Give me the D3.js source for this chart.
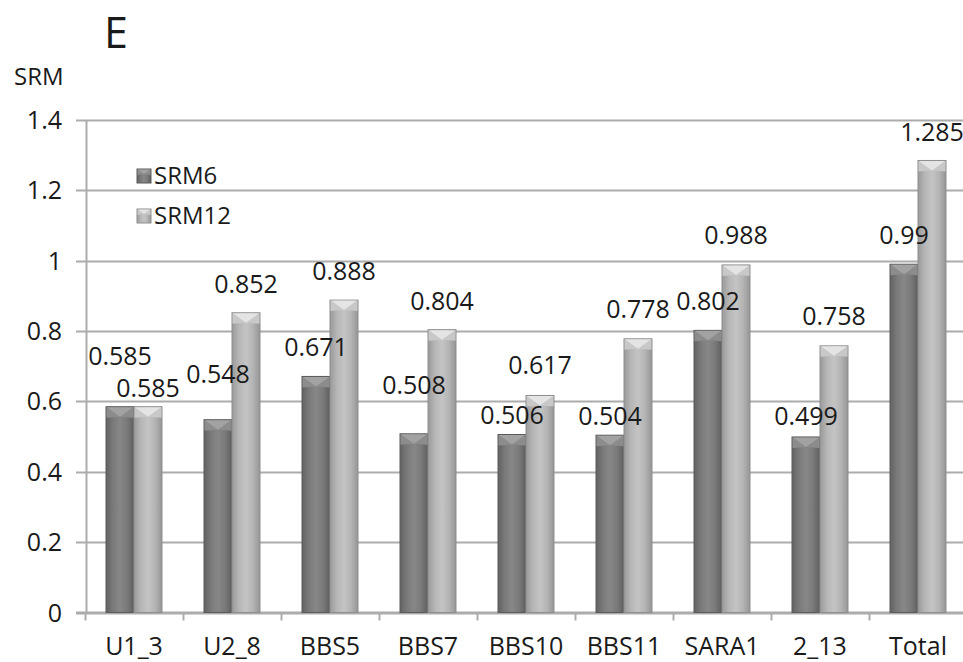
<!DOCTYPE html>
<html>
<head>
<meta charset="utf-8">
<script src="https://cdn.jsdelivr.net/npm/d3@7"></script>
<style>
  html, body { margin: 0; padding: 0; background: #fff; }
  svg { display: block; }
  text { font-family: "Open Sans", sans-serif; fill: #1a1a1a; }
</style>
</head>
<body>
<svg id="chart" width="963" height="662"></svg>
<script>
// ---- data ----
const categories = ["U1_3", "U2_8", "BBS5", "BBS7", "BBS10", "BBS11", "SARA1", "2_13", "Total"];
const seriesNames = ["SRM6", "SRM12"];
const srm6  = [0.585, 0.548, 0.671, 0.508, 0.506, 0.504, 0.802, 0.499, 0.99];
const srm12 = [0.585, 0.852, 0.888, 0.804, 0.617, 0.778, 0.988, 0.758, 1.285];
const yTicks = [0, 0.2, 0.4, 0.6, 0.8, 1, 1.2, 1.4];
// label lift above bar top (px), as placed in the original
const liftSrm6  = [42, 37, 20, 40, 10, 10, 20, 12, 20];
const liftSrm12 = [10, 20, 20, 20, 21, 21, 21, 21, 19];

const svg = d3.select("#chart");
const W = 963, H = 662;
const x0 = 85, x1 = 967, yTop = 120, yBot = 612.5;

const x = d3.scaleBand().domain(categories).range([x0, x1]).paddingInner(0).paddingOuter(0);
const xs = d3.scaleBand().domain(seriesNames).range([0, x.bandwidth()]).paddingInner(0).paddingOuter(0.75);
const y = d3.scaleLinear().domain([0, 1.4]).range([yBot, yTop]);

// gradients
const defs = svg.append("defs");
const styles = {
  SRM6:  { stops: ["#626262", "#7a7a7a", "#878787", "#7a7a7a", "#5e5e5e"], side: "#8c8c8c", tri: "#a2a2a2", edge: "#5a5a5a" },
  SRM12: { stops: ["#9a9a9a", "#b6b6b6", "#c4c4c4", "#b4b4b4", "#959595"], side: "#c8c8c8", tri: "#e4e4e4", edge: "#8e8e8e" }
};
seriesNames.forEach(s => {
  const g = defs.append("linearGradient").attr("id", "g_" + s).attr("x1", 0).attr("x2", 1).attr("y1", 0).attr("y2", 0);
  styles[s].stops.forEach((c, i, a) => g.append("stop").attr("offset", i / (a.length - 1)).attr("stop-color", c));
});

// gridlines
const grid = svg.append("g");
grid.selectAll("line").data(yTicks).join("line")
  .attr("x1", 76).attr("x2", W)
  .attr("y1", d => Math.round(y(d)) + 0.5).attr("y2", d => Math.round(y(d)) + 0.5)
  .attr("stroke", "#acacac").attr("stroke-width", 2);

// y axis
const yAxis = d3.axisLeft(y).tickValues(yTicks).tickSize(0).tickPadding(0).tickFormat(d => d3.format("")(+d.toFixed(1)));
const ya = svg.append("g").attr("transform", "translate(62,0)").call(yAxis);
ya.select(".domain").remove();
ya.selectAll("text").attr("font-size", 25).attr("font-family", "Open Sans, sans-serif").attr("fill", "#1a1a1a").attr("dy", "0.34em");
svg.append("line").attr("x1", 86.5).attr("x2", 86.5).attr("y1", yTop).attr("y2", yBot + 1).attr("stroke", "#acacac").attr("stroke-width", 2);

// x axis
const xAxis = d3.axisBottom(x).tickSize(0).tickPadding(0);
const xa = svg.append("g").attr("transform", `translate(0,${yBot})`).call(xAxis);
xa.select(".domain").remove();
xa.selectAll("text").attr("font-size", 25).attr("font-family", "Open Sans, sans-serif").attr("fill", "#1a1a1a").attr("dy", 0).attr("y", 42);
svg.append("line").attr("x1", 76).attr("x2", W).attr("y1", yBot).attr("y2", yBot).attr("stroke", "#acacac").attr("stroke-width", 2);
// ticks at band boundaries
const bounds = categories.map(c => x(c)).concat([x1]);
svg.append("g").selectAll("line").data(bounds).join("line")
  .attr("x1", d => Math.round(d) + 0.5).attr("x2", d => Math.round(d) + 0.5)
  .attr("y1", yBot).attr("y2", yBot + 8).attr("stroke", "#acacac").attr("stroke-width", 2);

// bars
const rows = [];
categories.forEach((c, i) => {
  rows.push({ cat: c, s: "SRM6", v: srm6[i], lift: liftSrm6[i] });
  rows.push({ cat: c, s: "SRM12", v: srm12[i], lift: liftSrm12[i] });
});

function drawBar(g, bx, bw, top, bottom, s, bev) {
  const st = styles[s];
  const cx = bx + bw / 2;
  g.append("rect").attr("x", bx).attr("y", top).attr("width", bw).attr("height", bottom - top)
    .attr("fill", `url(#g_${s})`).attr("stroke", st.edge).attr("stroke-width", 1);
  const pts = a => a.map(p => p.join(",")).join(" ");
  // side bevel wedges
  g.append("polygon").attr("points", pts([[bx + 0.5, top + 0.5], [cx, top + bev], [bx + 0.5, top + bev + 1]])).attr("fill", st.side);
  g.append("polygon").attr("points", pts([[bx + bw - 0.5, top + 0.5], [cx, top + bev], [bx + bw - 0.5, top + bev + 1]])).attr("fill", st.side);
  // light top triangle
  g.append("polygon").attr("points", pts([[bx + 0.5, top + 0.5], [bx + bw - 0.5, top + 0.5], [cx, top + bev]])).attr("fill", st.tri);
}

const barsG = svg.append("g");
rows.forEach(r => {
  const bx = x(r.cat) + xs(r.s);
  drawBar(barsG, bx, xs.bandwidth(), y(r.v), yBot, r.s, 10);
});

// labels
svg.append("g").selectAll("text").data(rows).join("text")
  .attr("x", r => x(r.cat) + xs(r.s) + xs.bandwidth() / 2)
  .attr("y", r => y(r.v) - r.lift)
  .attr("text-anchor", "middle").attr("font-size", 25)
  .text(r => d3.format("")(r.v));

// legend
const legend = svg.append("g");
seriesNames.forEach((s, i) => {
  const ly = 176 + i * 40;
  drawBar(legend, 137, 14, ly - 7, ly + 7, s, 5);
  legend.append("text").attr("x", 154).attr("y", ly).attr("dy", "0.35em").attr("font-size", 24).text(s);
});

// titles
svg.append("text").attr("x", 104).attr("y", 48).attr("font-size", 43).text("E");
svg.append("text").attr("x", 14).attr("y", 85).attr("font-size", 24).text("SRM");
</script>
</body>
</html>
